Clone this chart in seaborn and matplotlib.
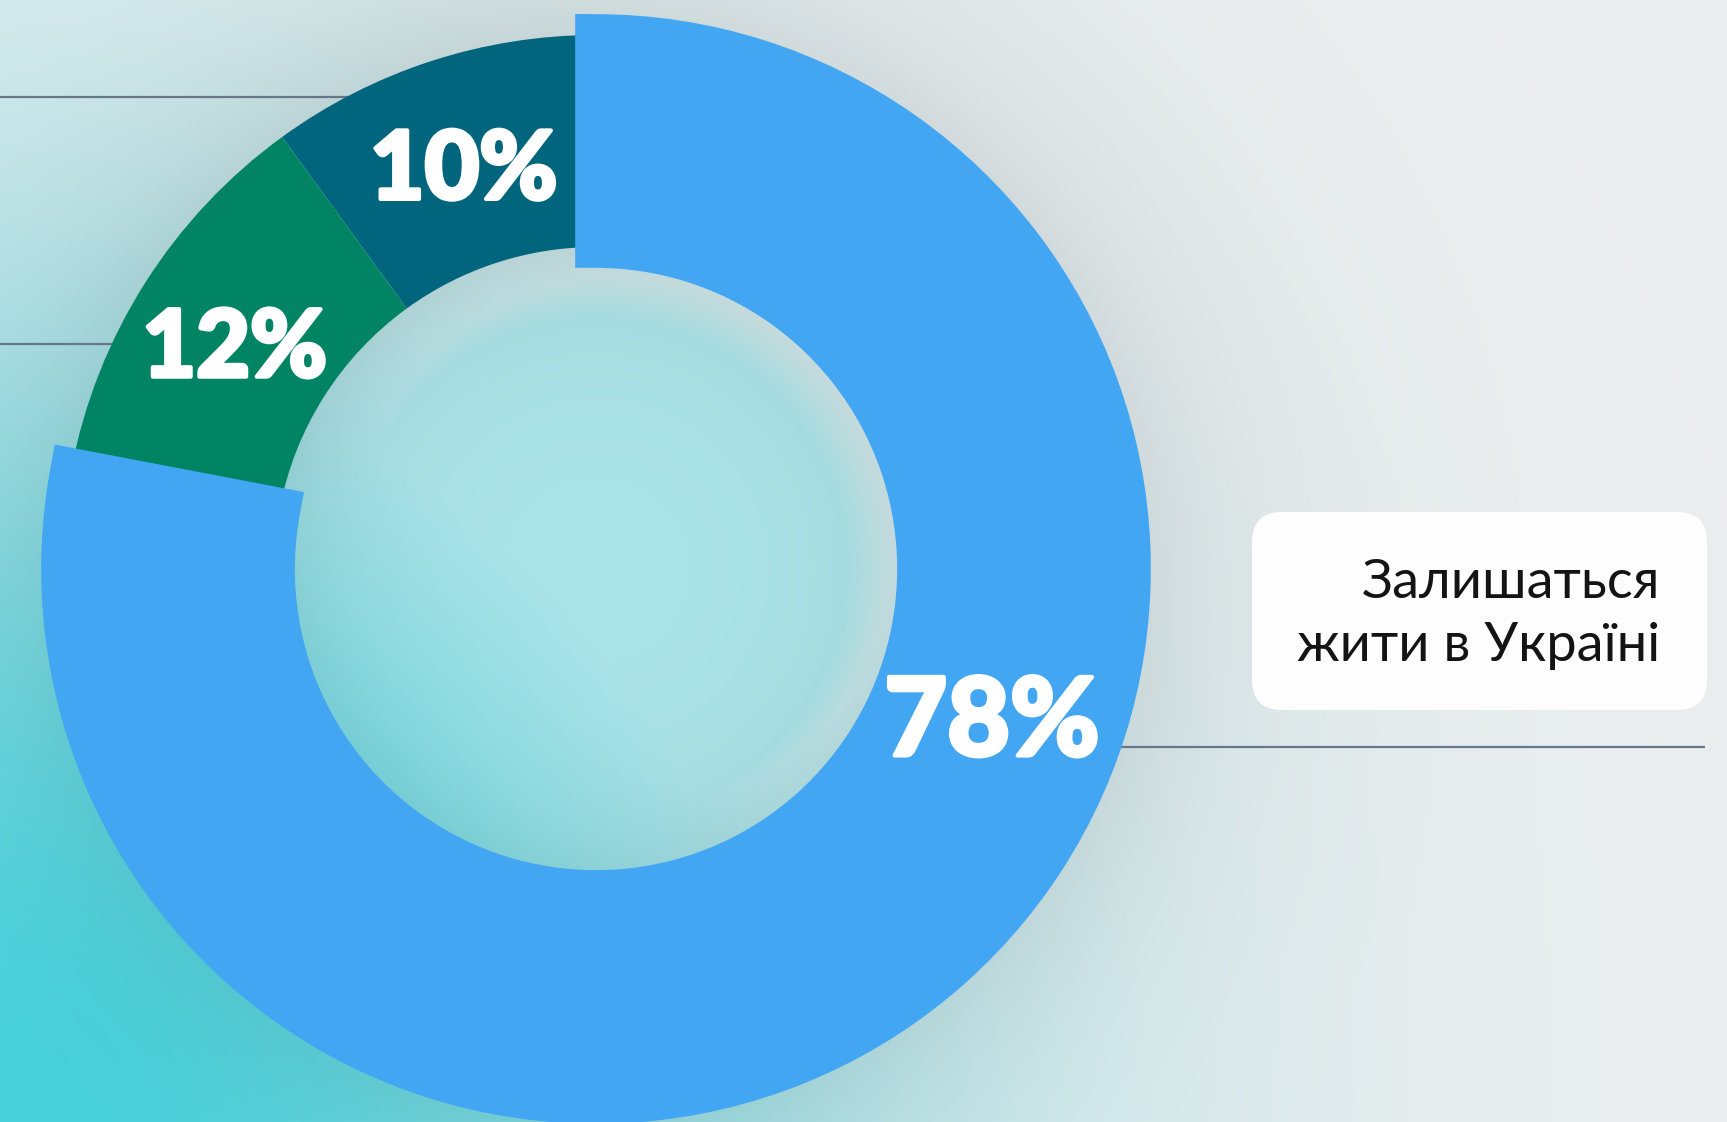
import matplotlib.pyplot as plt
import matplotlib.patheffects as pe
import numpy as np
import seaborn as sns
from matplotlib.patches import FancyBboxPatch

# data
shares = [10, 12, 78]
labels = ["10%", "12%", "78%"]
seg_colors = ["#00657d", "#008463", "#42a6f3"]
caption = ["Залишаться", "жити в Україні"]

sns.set_theme(style="white")
plt.rcParams['font.family'] = ['Lato', 'DejaVu Sans']
palette = sns.color_palette(seg_colors)

W, H = 1727, 1122
cx, cy = 596, 553          # donut centre, pixels from bottom-left
r_out, r_in = 534, 322

fig = plt.figure(figsize=(W / 100, H / 100), dpi=100)
ax = fig.add_axes([0, 0, 1, 1])

# background: grey paper fading into cyan at the bottom-left, shadow round the ring
yy, xx = np.mgrid[0:H, 0:W].astype(float)
yb = H - yy
grey = np.array([236, 238, 239]) / 255
cyan = np.array([72, 212, 222]) / 255
d = np.hypot(xx, yy - H)
w = np.exp(-(d / 800.0) ** 2)
r = np.hypot(xx - cx, yb - cy)
w = np.maximum(w, 0.40 * np.clip((330 - r) / 80, 0, 1))
img = grey[None, None, :] * (1 - w[..., None]) + cyan[None, None, :] * w[..., None]
sh_out = np.exp(-np.clip(r - r_out, 0, None) / 110.0) * (r > r_out - 10)
sh_in = np.exp(-np.clip(r_in - r, 0, None) / 80.0) * (r < r_in + 10)
shade = 1 - 0.09 * sh_out - 0.09 * sh_in
img = img * shade[..., None]
ax.imshow(np.clip(img, 0, 1), extent=(0, W, 0, H), origin='upper', zorder=0)

# leader lines
line_col = "#66778a"
ax.hlines(1025, 0, 420, color=line_col, lw=1.6, zorder=1)
ax.hlines(778, 0, 300, color=line_col, lw=1.6, zorder=1)
ax.hlines(375, 1100, 1705, color=line_col, lw=1.6, zorder=1)

wedges, texts, autotexts = ax.pie(
    shares, colors=palette, startangle=90, counterclock=True,
    radius=r_out, center=(cx, cy),
    wedgeprops=dict(width=r_out - r_in, linewidth=0),
    autopct=lambda p: "", pctdistance=(r_out + r_in) / 2 / r_out)
for wd in wedges:
    wd.set_zorder(2)

# the big share sits on top with a thick same-colour rim
big = wedges[2]
big.set_edgecolor(seg_colors[2])
big.set_linewidth(30)
big.set_joinstyle('miter')
big.set_zorder(3)

sizes = [68, 67, 78]
autotexts[2].set_position((992, 408))
for t, lab, fs in zip(autotexts, labels, sizes):
    t.set_text(lab)
    t.set_color("white")
    t.set_fontsize(fs)
    t.set_fontweight(900)
    t.set_zorder(4)
    t.set_path_effects([pe.withStroke(linewidth=3, foreground="white")])
    px, py = t.get_position()
    t.set_position((px, py - 10))

# caption box
box = FancyBboxPatch((1252, 412), 455, 198, boxstyle="round,pad=0,rounding_size=30",
                     fc="#fdfdfd", ec="none", zorder=5)
ax.add_patch(box)
for line, yb_ in zip(caption, [524, 461]):
    ax.text(1660, yb_, line, ha='right', va='baseline', fontsize=39,
            family=['Lato', 'DejaVu Sans'], fontweight='normal', color="#141414", zorder=6)

ax.set_xlim(0, W)
ax.set_ylim(0, H)
ax.set_aspect('auto')
ax.axis('off')
fig.savefig("out.png", dpi=100)
